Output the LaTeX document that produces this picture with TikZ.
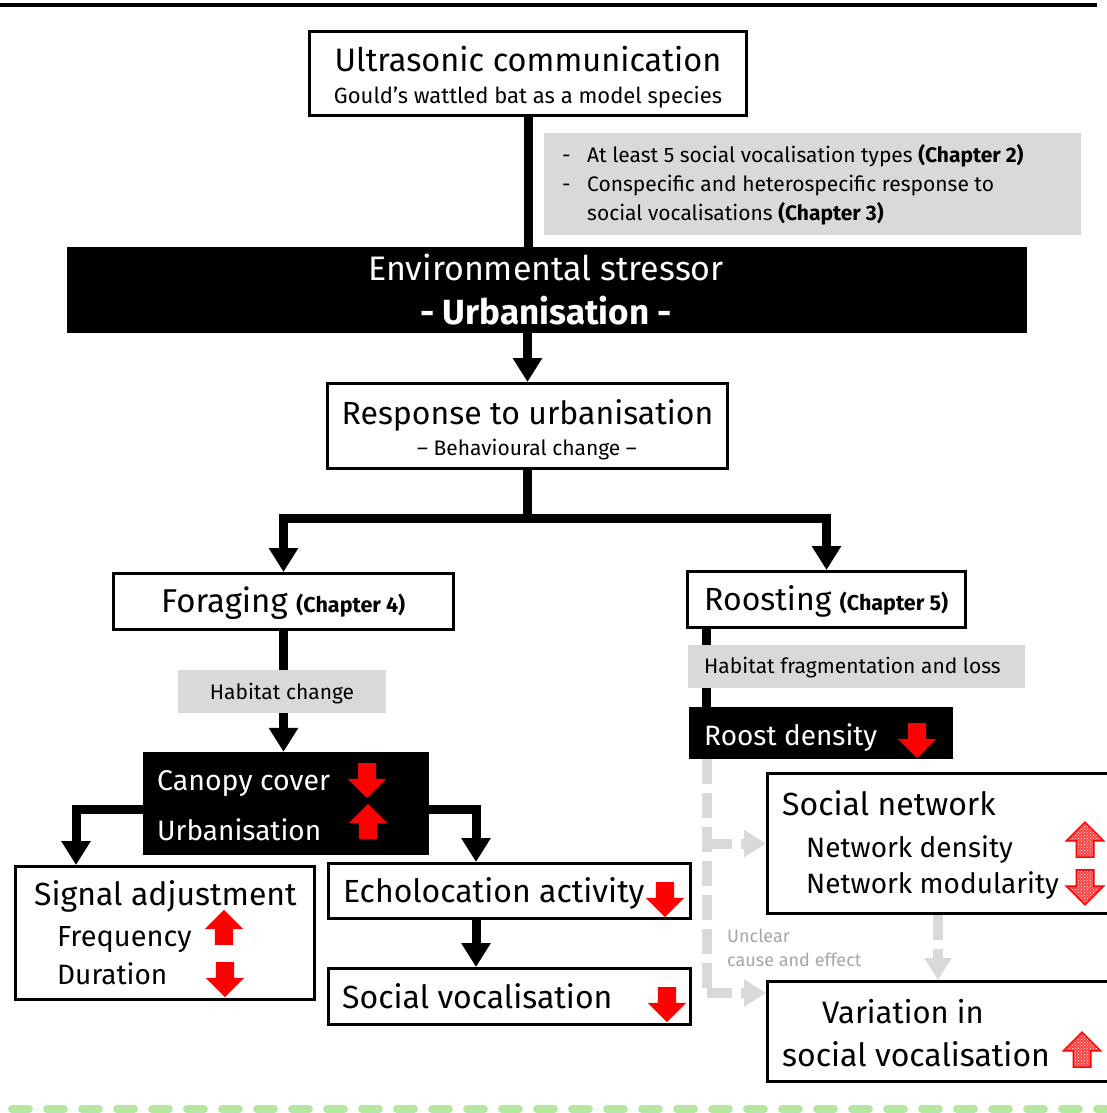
\documentclass[tikz,border=0pt]{standalone}
\usepackage{fontspec}
\setmainfont{Fira Sans}
\usetikzlibrary{arrows.meta,shapes.arrows,patterns}

\definecolor{boxgray}{HTML}{D9D9D9}
\definecolor{notegray}{HTML}{A6A6A6}
\definecolor{lightgreen}{HTML}{B6E7A1}
\newcommand\fsz[1]{\fontsize{#1}{#1}\selectfont}

\tikzset{
  box/.style={draw=black, line width=3pt, fill=white, inner sep=0pt},
  darkbox/.style={fill=black, inner sep=0pt},
  graybox/.style={fill=boxgray, inner sep=0pt},
  txt/.style={inner sep=0pt},
  wtxt/.style={inner sep=0pt, text=white},
  link/.style={line width=9pt, -{Triangle[width=28pt,length=24pt]}},
  glink/.style={draw=boxgray, line width=10pt, dash pattern=on 25pt off 9pt},
  garrow/.style={glink, -{Triangle[width=26pt,length=22pt]}},
  uparr/.style={single arrow, fill=red, inner sep=9pt, minimum height=35pt,
    single arrow head extend=10pt, shape border rotate=90},
  downarr/.style={uparr, shape border rotate=270},
  patup/.style={uparr, fill=none, draw=red, line width=1.5pt,
    preaction={fill=red!75}, pattern=crosshatch dots, pattern color=white, inner sep=8pt},
  patdown/.style={patup, shape border rotate=270}
}

\begin{document}
\begin{tikzpicture}[x=1pt, y=-1pt]
\useasboundingbox (0,0) rectangle (1106,1113);

% rules at top and bottom
\draw[line width=4pt] (0,5) -- (1097,5);
\draw[draw=lightgreen, line width=8pt, line cap=round, dash pattern=on 17pt off 18pt] (12,1109) -- (1110,1109);

% boxes
\node[box, minimum width=437pt, minimum height=84pt] (ultra) at (528,73.5) {};
\node[graybox, minimum width=537pt, minimum height=102pt] (chap) at (812.5,184) {};
\node[darkbox, minimum width=960pt, minimum height=86pt] (stress) at (547,290) {};
\node[box, minimum width=400pt, minimum height=85pt] (resp) at (527.5,426) {};
\node[box, minimum width=340pt, minimum height=56pt] (forag) at (283.5,601.5) {};
\node[box, minimum width=278pt, minimum height=56pt] (roost) at (826.5,599.5) {};
\node[darkbox, minimum width=286pt, minimum height=103pt] (canopy) at (286,803.5) {};
\node[darkbox, minimum width=264pt, minimum height=52pt] (roostd) at (821,733) {};
\node[box, minimum width=299pt, minimum height=133pt] (signal) at (165,933) {};
\node[box, minimum width=362pt, minimum height=55pt] (echo) at (509.5,891) {};
\node[box, minimum width=362pt, minimum height=56pt] (socv) at (509.5,996.5) {};
\node[box, minimum width=341pt, minimum height=140pt] (socnet) at (938,843.5) {};
\node[box, minimum width=341pt, minimum height=100pt] (var) at (938,1031.5) {};

% black connectors
\draw[line width=9pt] (ultra.south) -- (stress.north -| ultra.south);
\draw[link] (stress.south -| resp.north) -- (resp.north);
\draw[link] (resp.south) -- ++(0,48) -| (forag.north);
\draw[link] (resp.south) -- ++(0,48) -| (roost.north);
\draw[link] (forag.south) -- (forag.south |- canopy.north);
\draw[link] ([yshift=-6pt]canopy.west) -| ([xshift=-89pt]signal.north);
\draw[link] ([yshift=-6pt]canopy.east) -| ([xshift=-33.5pt]echo.north);
\draw[link] ([xshift=-33.5pt]echo.south) -- ([xshift=-33.5pt]socv.north);
\draw[line width=9pt] ([xshift=20pt]roost.south west) -- ([xshift=20pt]roost.south west |- roostd.north);

% grey notes on top of the connectors
\node[graybox, minimum width=208pt, minimum height=43pt] (habch) at (282,691.5) {};
\node[graybox, minimum width=337pt, minimum height=43pt] (habfr) at (856.5,666.5) {};

% unclear links
\coordinate (gbot) at (707,993);
\draw[glink] ([xshift=18pt]roostd.south west) -- ([xshift=18pt]roostd.south west |- gbot);
\draw[garrow] (gbot |- socnet.west) -- (socnet.west);
\draw[garrow] (gbot) -- (gbot -| var.west);
\draw[garrow] (socnet.south) -- (var.north);

% texts
\node[txt, anchor=base] (ultraA) at (528,72) {\fsz{32.5}Ultrasonic communication};
\node[txt, anchor=base] (ultraB) at (528,104) {\fsz{22}Gould’s wattled bat as a model species};

\node[txt, anchor=base west] (chapA0) at (562,162) {\fsz{21}-};
\node[txt, anchor=base west] (chapA) at (587,162) {\fsz{21}At least 5 social vocalisation types \textbf{(Chapter 2)}};
\node[txt, anchor=base west] (chapB0) at (562,191) {\fsz{21}-};
\node[txt, anchor=base west] (chapB) at (587,191) {\fsz{21}Conspecific and heterospecific response to};
\node[txt, anchor=base west] (chapC) at (587,220) {\fsz{21}social vocalisations \textbf{(Chapter 3)}};

\node[wtxt, anchor=base] (stressA) at (546,280) {\fsz{34}Environmental stressor};
\node[wtxt, anchor=base] (stressB) at (546,324) {\fsz{35}\textbf{- Urbanisation -}};

\node[txt, anchor=base] (respA) at (527.5,424) {\fsz{32}Response to urbanisation};
\node[txt, anchor=base] (respB) at (527,455) {\fsz{21}– Behavioural change –};

\node[txt, anchor=base west] (foragA) at (161,612) {\fsz{33}Foraging \fsz{21.5}\textbf{(Chapter 4)}};
\node[txt, anchor=base west] (roostA) at (704,610) {\fsz{32}Roosting \fsz{21.5}\textbf{(Chapter 5)}};

\node[txt, anchor=base] (habchA) at (282,699) {\fsz{21}Habitat change};
\node[txt, anchor=base west] (habfrA) at (704,673) {\fsz{21}Habitat fragmentation and loss};

\node[wtxt, anchor=base west] (canopyA) at (157,790) {\fsz{28.5}Canopy cover};
\node[wtxt, anchor=base west] (canopyB) at (157,840) {\fsz{28}Urbanisation};
\node[wtxt, anchor=base west] (roostdA) at (704,745) {\fsz{28}Roost density};

\node[txt, anchor=base west] (signalA) at (34,905) {\fsz{32}Signal adjustment};
\node[txt, anchor=base west] (signalB) at (57,946) {\fsz{29}Frequency};
\node[txt, anchor=base west] (signalC) at (57,984) {\fsz{28}Duration};
\node[txt, anchor=base west] (echoA) at (343,902) {\fsz{32}Echolocation activity};
\node[txt, anchor=base west] (socvA) at (342,1008) {\fsz{32}Social vocalisation};

\node[txt, anchor=base west] (socnetA) at (782,815) {\fsz{32}Social network};
\node[txt, anchor=base west] (socnetB) at (806,857) {\fsz{28}Network density};
\node[txt, anchor=base west] (socnetC) at (806,893) {\fsz{28}Network modularity};
\node[txt, anchor=base west, text=notegray] (noteA) at (727,942) {\fsz{18}Unclear};
\node[txt, anchor=base west, text=notegray] (noteB) at (727,966) {\fsz{18}cause and effect};
\node[txt, anchor=base] (varA) at (903,1023) {\fsz{31}Variation in};
\node[txt, anchor=base west] (varB) at (782,1066) {\fsz{32}social vocalisation};

% trend arrows
\node[downarr] (canopyT) at (367,776) {};
\node[uparr] (urbT) at (368,826) {};
\node[downarr] (roostdT) at (917,736) {};
\node[uparr] (freqT) at (224,932) {};
\node[downarr] (durT) at (225,975) {};
\node[downarr] (echoT) at (665,895) {};
\node[downarr] (socvT) at (667,1000) {};
\node[patup] (densT) at (1085,844) {};
\node[patdown] (modT) at (1085,883) {};
\node[patup] (varT) at (1082,1054) {};
\end{tikzpicture}
\end{document}
